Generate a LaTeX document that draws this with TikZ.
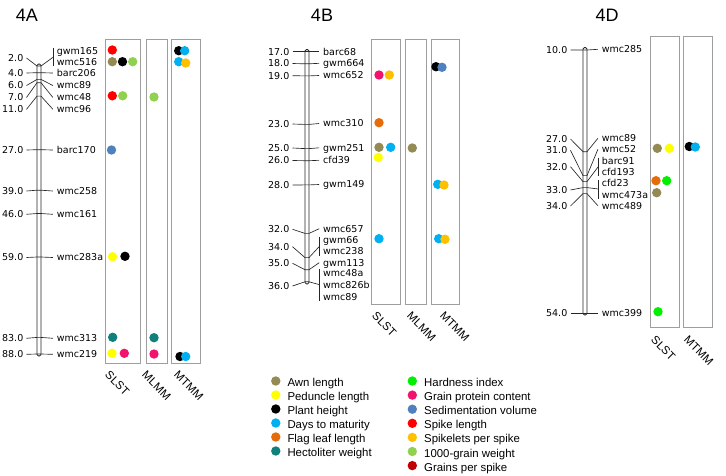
\documentclass[tikz,border=0pt]{standalone}
\usepackage{fontspec}
\newfontfamily\mkfont{DejaVu Sans}
\newfontfamily\arfont{Liberation Sans}
\definecolor{cawn}{HTML}{948A54}
\definecolor{cped}{HTML}{FFFF00}
\definecolor{cplant}{HTML}{000000}
\definecolor{cdays}{HTML}{00B0F0}
\definecolor{cflag}{HTML}{E46C0A}
\definecolor{checto}{HTML}{10807A}
\definecolor{chard}{HTML}{00F000}
\definecolor{cgpc}{HTML}{F0146E}
\definecolor{csed}{HTML}{4F81BD}
\definecolor{cspike}{HTML}{FF0000}
\definecolor{cspklt}{HTML}{FFC000}
\definecolor{ctgw}{HTML}{92D050}
\definecolor{cgps}{HTML}{C00000}
\tikzset{
  numl/.style={anchor=east, inner sep=0pt, font=\mkfont\fontsize{9.5}{10}\selectfont, text height=6.9pt, text depth=0pt},
  mkl/.style={anchor=west, inner sep=0pt, font=\mkfont\fontsize{9.5}{10}\selectfont, text height=6.9pt, text depth=0pt},
  conn/.style={line width=0.65pt, draw=black!85},
  chrom/.style={line width=0.75pt, draw=black!85, fill=white, rounded corners=1.5pt},
  colbox/.style={draw=black!38, line width=0.8pt},
  collab/.style={rotate=-45, anchor=north west, inner sep=0pt, font=\arfont\fontsize{11.5}{12}\selectfont, text height=8pt, text depth=0pt},
  ttl/.style={inner sep=0pt, font=\arfont\fontsize{18}{20}\selectfont},
  legt/.style={anchor=west, inner sep=0pt, font=\arfont\fontsize{11.4}{12}\selectfont, text height=8pt, text depth=0pt},
}
\newcommand\Loc[6]{%
  \node[numl] (n#1) at (\nx,#2) {#4};
  \node[mkl] (m#1) at (\mx,#5) {#6};
  \coordinate (bl#1) at (\cx-2,#3);
  \coordinate (br#1) at (\cx+2,#3);
  \draw[conn] ([xshift=3pt]n#1.east) -- (bl#1) -- (br#1) -- ([xshift=-3.8pt]m#1.west);}
\newcommand\LocB[5]{%
  \node[numl] (n#1) at (\nx,#2) {#4};
  \coordinate (bl#1) at (\cx-2,#3);
  \coordinate (br#1) at (\cx+2,#3);
  \coordinate (k#1) at (\mx-3.3,#5);
  \draw[conn] ([xshift=3pt]n#1.east) -- (bl#1) -- (br#1) -- (k#1);}
\newcommand\Mk[3]{\node[mkl] (#1) at (\mx,#2) {#3};}
\newcommand\Brk[2]{\draw[conn] ([xshift=-3.3pt,yshift=3.3pt]#1.west) -- ([xshift=-3.3pt,yshift=-4pt]#2.west);}
\newcommand\Dot[3]{\fill[#1] (#2,#3) circle (4.7);}
\begin{document}
\begin{tikzpicture}[x=1pt,y=-1pt]
\useasboundingbox (0,0) rectangle (726,475);
% ---------- titles
\node[ttl] (t4a) at (27,15.5) {4A};
\node[ttl] (t4b) at (322,15.5) {4B};
\node[ttl] (t4d) at (607,15.5) {4D};
% ---------- 4A
\def\cx{39}\def\nx{23.5}\def\mx{56.7}
\draw[chrom] (\cx-2,64) rectangle (\cx+2,356);
\LocB{a1}{58}{66}{2.0}{57}
\Mk{a1m1}{51}{gwm165}\Mk{a1m2}{62}{wmc516}\Brk{a1m1}{a1m2}
\Loc{a2}{73}{72.7}{4.0}{73}{barc206}
\Loc{a3}{85.5}{79.4}{6.0}{85.5}{wmc89}
\Loc{a4}{97.5}{82.7}{7.0}{97.5}{wmc48}
\Loc{a5}{109.3}{96.1}{11.0}{109.3}{wmc96}
\Loc{a6}{150}{149.7}{27.0}{150}{barc170}
\Loc{a7}{191}{190.2}{39.0}{191}{wmc258}
\Loc{a8}{214.3}{213.5}{46.0}{214.3}{wmc161}
\Loc{a9}{257.5}{257}{59.0}{257.5}{wmc283a}
\Loc{a10}{338.3}{337.4}{83.0}{338.3}{wmc313}
\Loc{a11}{354.3}{354}{88.0}{354.3}{wmc219}
\draw[colbox] (105.3,39) rectangle (140.3,363);
\draw[colbox] (146,39) rectangle (167.3,363);
\draw[colbox] (171.7,39) rectangle (200.7,363);
\Dot{cspike}{112.3}{50}
\Dot{cawn}{112.3}{61.7}\Dot{cplant}{122.5}{61.7}\Dot{ctgw}{132.7}{61.7}
\Dot{cspike}{112.3}{95.8}\Dot{ctgw}{122.7}{95.8}
\Dot{csed}{111.5}{150}
\Dot{cped}{112.5}{256.7}\Dot{cplant}{125}{256.3}
\Dot{checto}{112.7}{337.3}
\Dot{cped}{112}{353.3}\Dot{cgpc}{124.3}{353.3}
\Dot{ctgw}{154}{97}
\Dot{checto}{154}{337.7}
\Dot{cgpc}{154}{354}
\Dot{cplant}{178.7}{50.7}\Dot{cdays}{184.7}{50.7}
\Dot{cdays}{178.7}{61.7}\Dot{cspklt}{185.7}{63}
\Dot{cplant}{180}{356.5}\Dot{cdays}{185.7}{356.5}
\node[collab] (la1) at (110,370) {SLST};
\node[collab] (la2) at (147,370) {MLMM};
\node[collab] (la3) at (179,370) {MTMM};
% ---------- 4B
\def\cx{307}\def\nx{289.5}\def\mx{323}
\draw[chrom] (\cx-2,49.5) rectangle (\cx+2,284);
\Loc{b1}{51.7}{51.7}{17.0}{51.7}{barc68}
\Loc{b2}{63.5}{63.8}{18.0}{63.3}{gwm664}
\Loc{b3}{75.7}{75.9}{19.0}{75.5}{wmc652}
\Loc{b4}{124}{124.4}{23.0}{123.5}{wmc310}
\Loc{b5}{148}{148.6}{25.0}{147.8}{gwm251}
\Loc{b6}{160.5}{160.7}{26.0}{160.3}{cfd39}
\Loc{b7}{185}{184.9}{28.0}{184.5}{gwm149}
\Loc{b8}{229.3}{233.4}{32.0}{228.7}{wmc657}
\LocB{b9}{246.7}{257.6}{34.0}{246}
\Mk{b9m1}{240}{gwm66}\Mk{b9m2}{251.5}{wmc238}\Brk{b9m1}{b9m2}
\Loc{b10}{263.3}{269.7}{35.0}{262.7}{gwm113}
\LocB{b11}{286}{281.8}{36.0}{284.7}
\Mk{b11m1}{272.7}{wmc48a}\Mk{b11m2}{284.7}{wmc826b}\Mk{b11m3}{296.7}{wmc89}\Brk{b11m1}{b11m3}
\draw[colbox] (371,39.3) rectangle (400.7,304);
\draw[colbox] (405.3,39.3) rectangle (426.7,304);
\draw[colbox] (431.3,39.3) rectangle (459.3,304);
\Dot{cgpc}{379}{75}\Dot{cspklt}{389.3}{75}
\Dot{cflag}{379}{122.7}
\Dot{cawn}{379}{147.3}\Dot{cdays}{390.7}{147.3}
\Dot{cped}{378.3}{157.5}
\Dot{cdays}{379}{238.7}
\Dot{cawn}{412.3}{148}
\Dot{cplant}{436}{66.7}\Dot{csed}{442}{67.3}
\Dot{cdays}{437.7}{184.3}\Dot{cspklt}{444}{185}
\Dot{cdays}{438.7}{238.7}\Dot{cspklt}{445}{239.3}
\node[collab] (lb1) at (377,311) {SLST};
\node[collab] (lb2) at (412,311) {MLMM};
\node[collab] (lb3) at (445,311) {MTMM};
% ---------- 4D
\def\cx{585}\def\nx{567.5}\def\mx{601.7}
\draw[chrom] (\cx-2,47.5) rectangle (\cx+2,315);
\Loc{d1}{50}{50}{10.0}{49.3}{wmc285}
\Loc{d2}{139}{151.7}{27.0}{138.3}{wmc89}
\Loc{d3}{150.3}{175.6}{31.0}{149.3}{wmc52}
\LocB{d4}{166.7}{181.6}{32.0}{166.5}
\Mk{d4m1}{161}{barc91}\Mk{d4m2}{172}{cfd193}\Brk{d4m1}{d4m2}
\LocB{d5}{190}{187.6}{33.0}{189}
\Mk{d5m1}{183.3}{cfd23}\Mk{d5m2}{195}{wmc473a}\Brk{d5m1}{d5m2}
\Loc{d6}{206}{193.6}{34.0}{205.7}{wmc489}
\Loc{d7}{313.3}{313.3}{54.0}{313.3}{wmc399}
\draw[colbox] (650.7,36.7) rectangle (679,327.7);
\draw[colbox] (683.3,36.7) rectangle (712.7,327.7);
\Dot{cawn}{657.3}{148.3}\Dot{cped}{669.3}{148.3}
\Dot{cflag}{656}{180.7}\Dot{chard}{666.7}{180.7}
\Dot{cawn}{656.7}{192.7}
\Dot{chard}{658}{311.7}
\Dot{cplant}{689.3}{146.5}\Dot{cdays}{695.3}{147}
\node[collab] (ld1) at (656,335) {SLST};
\node[collab] (ld2) at (689,335) {MTMM};
% ---------- legend
\foreach \c/\t [count=\i from 0] in {cawn/Awn length, cped/Peduncle length, cplant/Plant height, cdays/Days to maturity, cflag/Flag leaf length, checto/Hectoliter weight}{
  \fill[\c] (275.8,381+14*\i) circle (4.7);
  \node[legt] (lgl\i) at (287.3,382+14*\i) {\t};
}
\foreach \c/\t [count=\i from 0] in {chard/Hardness index, cgpc/Grain protein content, csed/Sedimentation volume, cspike/Spike length, cspklt/Spikelets per spike, ctgw/1000-grain weight, cgps/Grains per spike}{
  \fill[\c] (412.3,381+14.1*\i) circle (4.7);
  \node[legt] (lgr\i) at (424,382.5+14.1*\i) {\t};
}
\end{tikzpicture}
\end{document}
